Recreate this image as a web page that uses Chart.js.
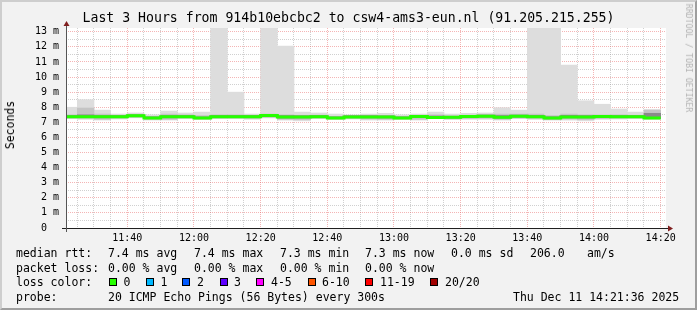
<!DOCTYPE html>
<html><head><meta charset="utf-8">
<script src="https://cdn.jsdelivr.net/npm/chart.js@4.4.1/dist/chart.umd.min.js"></script>
<style>
html,body{margin:0;padding:0;background:#f2f2f2;}
#wrap{position:relative;width:697px;height:310px;overflow:hidden;background:#f2f2f2;font-family:"DejaVu Sans Mono",monospace;color:#000;}
#frame{position:absolute;left:0;top:0;width:697px;height:310px;box-sizing:border-box;border-top:2px solid #cecece;border-left:2px solid #cecece;border-right:2px solid #9e9e9e;border-bottom:2px solid #9e9e9e;pointer-events:none;}
canvas{position:absolute;left:0;top:0;}
.t{position:absolute;white-space:pre;font-size:11.5px;line-height:14px;}
.box{position:absolute;width:8px;height:8px;box-sizing:border-box;border:1px solid #000;top:278px;}
</style>
</head><body>
<div id="wrap">
<canvas id="c" width="697" height="310"></canvas>
<div class="t" style="left:0;top:10px;width:697px;text-align:center;font-size:13.2px;line-height:16px;">Last 3 Hours from 914b10ebcbc2 to csw4-ams3-eun.nl (91.205.215.255)</div>
<div class="t" style="left:10px;top:125px;transform:translate(-50%,-50%) rotate(-90deg);">Seconds</div>
<div class="t" style="left:689px;top:58px;font-size:8.2px;line-height:10px;color:#b3b3b3;transform:translate(-50%,-50%) rotate(90deg);">RRDTOOL / TOBI OETIKER</div>

<div class="t" style="left:16px;top:246px;">median rtt:</div>
<div class="t" style="left:108px;top:246px;">7.4 ms avg</div>
<div class="t" style="left:194px;top:246px;">7.4 ms max</div>
<div class="t" style="left:280px;top:246px;">7.3 ms min</div>
<div class="t" style="left:365px;top:246px;">7.3 ms now</div>
<div class="t" style="left:451px;top:246px;">0.0 ms sd</div>
<div class="t" style="left:530px;top:246px;">206.0</div>
<div class="t" style="left:587px;top:246px;">am/s</div>

<div class="t" style="left:16px;top:261px;">packet loss:</div>
<div class="t" style="left:108px;top:261px;">0.00 % avg</div>
<div class="t" style="left:194px;top:261px;">0.00 % max</div>
<div class="t" style="left:280px;top:261px;">0.00 % min</div>
<div class="t" style="left:365px;top:261px;">0.00 % now</div>

<div class="t" style="left:16px;top:275px;">loss color:</div>
<div class="box" style="left:109px;background:#26ff00;"></div><div class="t" style="left:123.5px;top:275px;">0</div>
<div class="box" style="left:146px;background:#00b8ff;"></div><div class="t" style="left:160.5px;top:275px;">1</div>
<div class="box" style="left:182px;background:#0059ff;"></div><div class="t" style="left:197px;top:275px;">2</div>
<div class="box" style="left:220px;background:#5e00ff;"></div><div class="t" style="left:234px;top:275px;">3</div>
<div class="box" style="left:256px;background:#ff00ff;"></div><div class="t" style="left:271px;top:275px;">4-5</div>
<div class="box" style="left:307.5px;background:#ff5500;"></div><div class="t" style="left:322px;top:275px;">6-10</div>
<div class="box" style="left:365px;background:#ff0000;"></div><div class="t" style="left:380px;top:275px;">11-19</div>
<div class="box" style="left:430px;background:#a10000;"></div><div class="t" style="left:445px;top:275px;">20/20</div>

<div class="t" style="left:16px;top:290px;">probe:</div>
<div class="t" style="left:108px;top:290px;">20 ICMP Echo Pings (56 Bytes) every 300s</div>
<div class="t" style="left:513px;top:290px;">Thu Dec 11 14:21:36 2025</div>
<div id="frame"></div>
</div>
<script>
// ---- data (interval end times, 5-minute steps) ----
const times = ['11:25','11:30','11:35','11:40','11:45','11:50','11:55','12:00','12:05','12:10','12:15','12:20',
  '12:25','12:30','12:35','12:40','12:45','12:50','12:55','13:00','13:05','13:10','13:15','13:20',
  '13:25','13:30','13:35','13:40','13:45','13:50','13:55','14:00','14:05','14:10','14:15','14:20'];
const medianRtt = [7.37,7.37,7.37,7.37,7.44,7.28,7.37,7.37,7.28,7.37,7.37,7.37,
  7.45,7.35,7.36,7.37,7.28,7.36,7.36,7.35,7.28,7.38,7.32,7.33,
  7.38,7.40,7.34,7.40,7.37,7.29,7.36,7.36,7.39,7.37,7.37,7.29];
const smokeMax = [8.0,8.5,7.81,7.55,7.62,7.5,7.75,7.62,7.68,13.3,9.0,7.55,
  13.3,12.05,7.68,7.62,7.55,7.5,7.55,7.6,7.5,7.55,7.68,7.55,
  7.6,7.62,7.97,7.81,13.3,13.3,10.8,8.43,8.2,7.88,7.68,7.86];
const smokeMin = [7.25,7.2,7.15,7.22,7.3,7.15,7.15,7.25,7.2,7.25,7.25,7.2,
  7.3,7.15,7.1,7.25,7.2,7.22,7.15,7.15,7.2,7.15,7.25,7.2,
  7.2,7.2,7.15,7.25,7.2,7.15,7.15,7.1,7.2,7.22,7.25,7.2];
const smokeHi = [7.5,7.95,7.55,7.47,7.52,7.4,7.55,7.5,7.45,7.5,7.5,7.47,
  7.55,7.5,7.47,7.48,7.4,7.45,7.47,7.45,7.4,7.47,7.5,7.4,
  7.47,7.52,7.55,7.55,7.55,7.45,7.55,7.5,7.47,7.5,7.47,7.8];
const smokeLo = [7.28,7.27,7.2,7.27,7.33,7.2,7.2,7.28,7.22,7.28,7.28,7.25,
  7.33,7.2,7.18,7.28,7.22,7.25,7.22,7.2,7.22,7.2,7.27,7.22,
  7.25,7.27,7.2,7.28,7.25,7.2,7.22,7.18,7.25,7.27,7.28,7.25];
const coreHi = [7.45,7.5,7.45,7.45,7.5,7.36,7.45,7.45,7.36,7.45,7.45,7.45,
  7.52,7.45,7.44,7.45,7.36,7.44,7.44,7.43,7.36,7.46,7.42,7.41,
  7.46,7.48,7.45,7.48,7.46,7.37,7.46,7.45,7.47,7.45,7.45,7.6];
const coreLo = [7.32,7.32,7.3,7.32,7.39,7.24,7.3,7.32,7.24,7.32,7.32,7.31,
  7.4,7.28,7.29,7.32,7.24,7.31,7.3,7.29,7.24,7.32,7.28,7.28,
  7.32,7.35,7.28,7.35,7.31,7.23,7.3,7.29,7.34,7.32,7.32,7.24];
const yTickValues = [0,0.5,1,1.5,2,2.5,3,3.5,4,4.5,5,5.5,6,6.5,7,7.5,8,8.5,9,9.5,10,10.5,11,11.5,12,12.5,13];
const xLabelTimes = ['11:40','12:00','12:20','12:40','13:00','13:20','13:40','14:00','14:20'];
const axisStart = '11:21:36';
const axisEnd = '14:21:36';
const stepMinutes = 5;

// ---- helpers ----
const toMin = s => { const p = s.split(':').map(Number); return p[0]*60 + p[1] + (p[2]||0)/60; };
const fmt = v => { const h = Math.floor(v/60), m = Math.round(v - h*60); return h + ':' + String(m).padStart(2,'0'); };
const ends = times.map(toMin);
const mids = ends.map(e => e - stepMinutes/2);
const xTickValues = ends.slice();
const xMajor = new Set(xLabelTimes.map(toMin));
const band = (lo, hi) => mids.map((x,i) => ({x, y:[lo[i], hi[i]]}));
const medPts = [];
medianRtt.forEach((m,i) => { medPts.push({x: ends[i]-stepMinutes, y: m}); medPts.push({x: ends[i], y: m}); });

const GRID = 'rgba(150,150,150,0.45)';
const MGRID = 'rgba(230,90,90,0.45)';
const tickFont = {family:'DejaVu Sans Mono', size:10};

const decor = {
  id:'decor',
  beforeDraw(chart){
    const {ctx, chartArea:a} = chart;
    ctx.save(); ctx.fillStyle = '#ffffff';
    ctx.fillRect(a.left, a.top, a.right-a.left, a.bottom-a.top);
    ctx.restore();
  },
  afterDraw(chart){
    const {ctx, chartArea:a} = chart;
    ctx.save();
    ctx.strokeStyle = '#1f1f1f'; ctx.lineWidth = 1;
    ctx.beginPath(); ctx.moveTo(a.left-4, a.bottom+0.5); ctx.lineTo(a.right+4, a.bottom+0.5); ctx.stroke();
    ctx.strokeStyle = '#555555';
    ctx.beginPath(); ctx.moveTo(a.left+0.5, a.bottom+4); ctx.lineTo(a.left+0.5, a.top-4); ctx.stroke();
    ctx.fillStyle = '#801f1f';
    ctx.beginPath(); ctx.moveTo(a.right+2, a.bottom-2.5); ctx.lineTo(a.right+2, a.bottom+3.5); ctx.lineTo(a.right+7, a.bottom+0.5); ctx.closePath(); ctx.fill();
    ctx.beginPath(); ctx.moveTo(a.left-2.5, a.top-2); ctx.lineTo(a.left+3.5, a.top-2); ctx.lineTo(a.left+0.5, a.top-7); ctx.closePath(); ctx.fill();
    ctx.restore();
  }
};

const barCommon = {type:'bar', grouped:false, barPercentage:1, categoryPercentage:1, borderWidth:0, borderSkipped:false};

new Chart(document.getElementById('c'), {
  data: {
    datasets: [
      {...barCommon, label:'smoke outer', data: band(smokeMin, smokeMax), backgroundColor:'#dddddd', order:4},
      {...barCommon, label:'smoke mid', data: band(smokeLo, smokeHi), backgroundColor:'#c4c4c4', order:3},
      {...barCommon, label:'smoke core', data: band(coreLo, coreHi), backgroundColor:'#8a8a8a', order:2},
      {type:'line', label:'median rtt', data: medPts, borderColor:'#26ff00', borderWidth:3, pointRadius:0,
       tension:0, fill:false, order:1, clip:0, borderCapStyle:'butt', borderJoinStyle:'miter'}
    ]
  },
  options: {
    responsive:false, animation:false, devicePixelRatio:1,
    layout:{padding:{left:0, top:28, right:31, bottom:0}},
    plugins:{legend:{display:false}, tooltip:{enabled:false}},
    scales:{
      x:{type:'linear', min:toMin(axisStart), max:toMin(axisEnd), bounds:'data', offset:false, z:1,
        afterBuildTicks: s => { s.ticks = xTickValues.map(v => ({value:v})); },
        afterFit: s => { s.height = 82; },
        ticks:{autoSkip:false, maxRotation:0, minRotation:0, padding:4, color:'#000', font:tickFont,
          callback: v => xMajor.has(v) ? fmt(v) : ''},
        grid:{offset:false, drawTicks:false, lineWidth:1, color: c => xMajor.has(c.tick && c.tick.value) ? MGRID : GRID},
        border:{display:false, dash:[1,1]}
      },
      y:{type:'linear', min:0, max:13.25, bounds:'data', z:1,
        afterBuildTicks: s => { s.ticks = yTickValues.map(v => ({value:v})); },
        afterFit: s => { s.width = 66; },
        ticks:{autoSkip:false, padding:7, color:'#000', font:tickFont,
          callback: v => Number.isInteger(v) ? (v === 0 ? '0  ' : v + ' m') : ''},
        grid:{drawTicks:false, lineWidth:1, color: c => (c.tick && Number.isInteger(c.tick.value)) ? MGRID : GRID},
        border:{display:false, dash:[1,1]}
      }
    }
  },
  plugins:[decor]
});
</script>
</body></html>
